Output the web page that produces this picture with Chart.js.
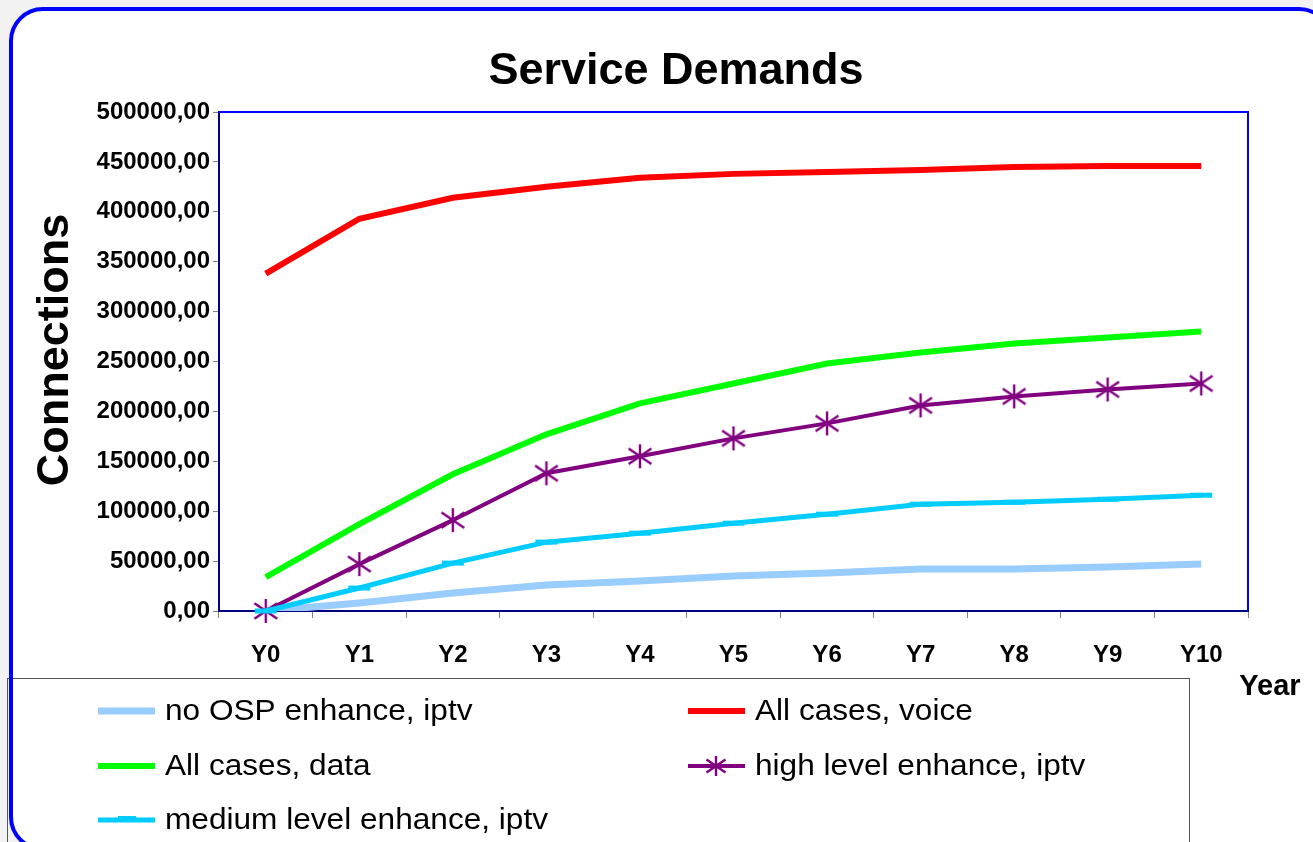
<!DOCTYPE html>
<html>
<head>
<meta charset="utf-8">
<script src="https://cdn.jsdelivr.net/npm/chart.js@4/dist/chart.umd.min.js"></script>
<style>
  html, body { margin: 0; padding: 0; background: #f2f2f2; }
  #chart { display: block; }
</style>
</head>
<body>
<canvas id="chart" width="1313" height="842"></canvas>
<script>
// Service Demands - connections per year

const years = ['Y0', 'Y1', 'Y2', 'Y3', 'Y4', 'Y5', 'Y6', 'Y7', 'Y8', 'Y9', 'Y10'];
const noOspIptv = [0, 8000, 18000, 26000, 30000, 35000, 38000, 42000, 42000, 44000, 47000];
const voice = [338000, 393000, 414000, 425000, 434000, 438000, 440000, 442000, 445000, 446000, 446000];
const dataSvc = [34000, 87000, 137000, 177000, 208000, 228000, 248000, 259000, 268000, 274000, 280000];
const highIptv = [0, 47000, 91000, 138000, 155000, 173000, 188000, 206000, 215000, 222000, 228000];
const mediumIptv = [0, 23000, 48000, 69000, 78000, 88000, 97000, 107000, 109000, 112000, 116000];
const yTicks = [0, 50000, 100000, 150000, 200000, 250000, 300000, 350000, 400000, 450000, 500000];

const FONT = 'Arial, "Liberation Sans", sans-serif';

// Excel-like asterisk marker: vertical stroke plus two diagonals
function makeAsterisk(size, color) {
    const c = document.createElement('canvas');
    c.width = size;
    c.height = size;
    const g = c.getContext('2d');
    const m = size / 2;
    const r = size / 2 - 1;
    g.strokeStyle = color;
    g.lineWidth = 2.4;
    g.beginPath();
    g.moveTo(m, m - r);
    g.lineTo(m, m + r);
    g.moveTo(m - r * 0.95, m - r * 0.65);
    g.lineTo(m + r * 0.95, m + r * 0.65);
    g.moveTo(m - r * 0.95, m + r * 0.65);
    g.lineTo(m + r * 0.95, m - r * 0.65);
    g.stroke();
    return c;
}

const asterisk = makeAsterisk(26, '#800080');
const asteriskSmall = makeAsterisk(22, '#800080');

// Background, frame, plot border, titles and legend
const decor = {
    id: 'decor',
    beforeDraw(chart) {
        const ctx = chart.ctx;
        ctx.save();
        ctx.fillStyle = '#f2f2f2';
        ctx.fillRect(0, 0, chart.width, chart.height);
        ctx.beginPath();
        ctx.roundRect(11, 9, 1320, 840, 32);
        ctx.fillStyle = '#ffffff';
        ctx.fill();
        ctx.restore();
    },
    afterDraw(chart) {
        const ctx = chart.ctx;
        const area = chart.chartArea;
        ctx.save();

        // top and right border of the plot
        ctx.strokeStyle = '#0000ff';
        ctx.lineWidth = 2;
        ctx.beginPath();
        ctx.moveTo(area.left, area.top);
        ctx.lineTo(area.right, area.top);
        ctx.lineTo(area.right, area.bottom);
        ctx.stroke();

        // texts
        ctx.fillStyle = '#000';
        ctx.textAlign = 'center';
        ctx.textBaseline = 'middle';
        ctx.font = 'bold 45px ' + FONT;
        ctx.fillText('Service Demands', 676, 72);

        ctx.save();
        ctx.translate(56, 350);
        ctx.rotate(-Math.PI / 2);
        ctx.fillText('Connections', 0, 0);
        ctx.restore();

        ctx.font = 'bold 29px ' + FONT;
        ctx.fillText('Year', 1270, 687);

        // legend box
        ctx.strokeStyle = '#555';
        ctx.lineWidth = 1;
        ctx.strokeRect(7.5, 678.5, 1182, 200);

        const cols = [98, 688];
        const rows = [711, 766, 820];
        ctx.textAlign = 'left';
        ctx.font = '29px ' + FONT;
        chart.data.datasets.forEach((ds, i) => {
            const x = cols[i % 2];
            const y = rows[Math.floor(i / 2)];
            ctx.strokeStyle = ds.borderColor;
            ctx.lineWidth = ds.borderWidth;
            ctx.beginPath();
            ctx.moveTo(x, y);
            ctx.lineTo(x + 57, y);
            ctx.stroke();
            if (ds.pointStyle === asterisk) {
                ctx.drawImage(asteriskSmall, x + 28 - 11, y - 11);
            } else if (ds.pointStyle === 'line') {
                ctx.lineWidth = 6;
                ctx.beginPath();
                ctx.moveTo(x + 20, y - 1);
                ctx.lineTo(x + 38, y - 1);
                ctx.stroke();
            }
            ctx.fillStyle = '#000';
            ctx.save();
            ctx.translate(x + 67, y + 1);
            ctx.scale(1.09, 1);
            ctx.fillText(ds.label, 0, 0);
            ctx.restore();
        });

        // outer frame
        ctx.strokeStyle = '#0000ff';
        ctx.lineWidth = 4;
        ctx.beginPath();
        ctx.roundRect(11, 9, 1320, 840, 32);
        ctx.stroke();
        ctx.restore();
    }
};

const ctx = document.getElementById('chart').getContext('2d');

new Chart(ctx, {
    type: 'line',
    data: {
        labels: years,
        datasets: [
            {
                label: 'no OSP enhance, iptv',
                data: noOspIptv,
                borderColor: '#99ccff',
                borderWidth: 7,
                pointRadius: 0,
                order: 2
            },
            {
                label: 'All cases, voice',
                data: voice,
                borderColor: '#ff0000',
                borderWidth: 6,
                pointRadius: 0,
                order: 4
            },
            {
                label: 'All cases, data',
                data: dataSvc,
                borderColor: '#00ff00',
                borderWidth: 6,
                pointRadius: 0,
                order: 3
            },
            {
                label: 'high level enhance, iptv',
                data: highIptv,
                borderColor: '#800080',
                borderWidth: 4,
                pointStyle: asterisk,
                pointRadius: 13,
                clip: false,
                order: 1
            },
            {
                label: 'medium level enhance, iptv',
                data: mediumIptv,
                borderColor: '#00ccff',
                borderWidth: 5,
                pointStyle: 'line',
                pointRadius: 11,
                pointBorderWidth: 5,
                clip: false,
                order: 0
            }
        ]
    },
    options: {
        responsive: false,
        animation: false,
        devicePixelRatio: 1,
        layout: {
            padding: { left: 80, top: 112, right: 65, bottom: 131 }
        },
        plugins: {
            legend: { display: false },
            tooltip: { enabled: false }
        },
        scales: {
            x: {
                offset: true,
                afterFit: function(scale) { scale.height = 100; },
                grid: {
                    offset: true,
                    drawOnChartArea: false,
                    tickLength: 7,
                    tickColor: '#808080'
                },
                border: { color: '#000080', width: 2 },
                ticks: {
                    color: '#000',
                    padding: 23,
                    font: { family: FONT, size: 24, weight: 'bold' }
                }
            },
            y: {
                min: 0,
                max: 500000,
                afterFit: function(scale) { scale.width = 139; },
                afterBuildTicks: function(scale) {
                    scale.ticks = yTicks.map(v => ({ value: v }));
                },
                grid: {
                    drawOnChartArea: false,
                    tickLength: 6,
                    tickColor: '#808080'
                },
                border: { color: '#000080', width: 2 },
                ticks: {
                    color: '#000',
                    padding: 3,
                    font: { family: FONT, size: 24, weight: 'bold' },
                    callback: function(value) {
                        return value.toFixed(2).replace('.', ',');
                    }
                }
            }
        }
    },
    plugins: [decor]
});
</script>
</body>
</html>
